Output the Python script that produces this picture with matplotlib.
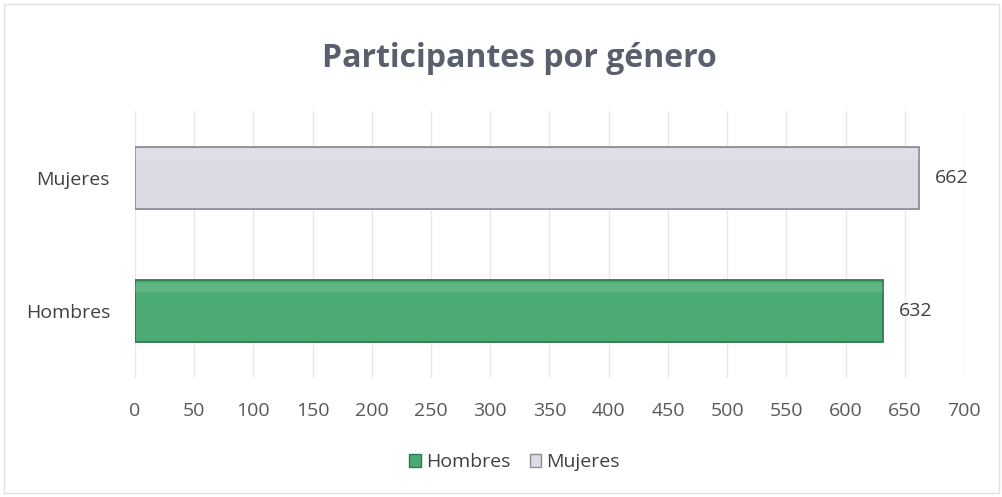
import matplotlib
matplotlib.use("Agg")
import matplotlib.pyplot as plt
from matplotlib.patches import Rectangle

categories = ["Hombres", "Mujeres"]
values = [632, 662]
bar_colors = ["#4cab75", "#dcdae3"]
edge_colors = ["#2e7a50", "#8e8d96"]
x_ticks = list(range(0, 701, 50))

TEXT = "#404040"
FONT = "Open Sans"

fig = plt.figure(figsize=(10.03, 4.97), dpi=100, facecolor="white")
fig.patches.append(Rectangle((0.004, 0.008), 0.992, 0.984, transform=fig.transFigure,
                             fill=False, edgecolor="#e0e0e0", linewidth=1.0))
ax = fig.add_axes([0.1346, 0.2394, 0.8265, 0.537])

ax.barh(range(len(categories)), values, height=0.465, color=bar_colors,
        edgecolor=edge_colors, linewidth=1.3, zorder=3)
# soft highlight along the top of each bar (bevel look)
ax.barh([i + 0.18 for i in range(len(categories))], values, height=0.07,
        color="white", alpha=0.12, linewidth=0, zorder=4)
for i, v in enumerate(values):
    ax.text(v + 13, i, str(v), va="center", ha="left", fontsize=14, color=TEXT,
            family=FONT)

ax.set_xlim(0, 700)
ax.set_ylim(-0.5, 1.5)
ax.set_xticks(x_ticks)
ax.set_xticklabels([str(t) for t in x_ticks], fontsize=14, color="#595959", family=FONT)
ax.set_yticks(range(len(categories)))
ax.set_yticklabels(categories, fontsize=14, color=TEXT, family=FONT)
ax.tick_params(axis="y", length=0, pad=18)
ax.tick_params(axis="x", length=0, pad=17)
ax.grid(axis="x", color="#e8e8e8", linewidth=1.0, zorder=0)
for s in ax.spines.values():
    s.set_visible(False)

fig.text(0.518, 0.882, "Participantes por género", ha="center", va="center",
         fontsize=23, weight="bold", color="#5a5f6e", family=FONT)

handles = [Rectangle((0, 0), 1, 1, facecolor=bar_colors[0], edgecolor=edge_colors[0]),
           Rectangle((0, 0), 1, 1, facecolor=bar_colors[1], edgecolor=edge_colors[1])]
fig.legend(handles, categories, loc="center", bbox_to_anchor=(0.513, 0.07), ncol=2,
           frameon=False, handlelength=0.6, handleheight=0.6, handletextpad=0.25,
           columnspacing=1.0, prop={"family": FONT, "size": 14}, labelcolor=TEXT)

fig.savefig("out.png", dpi=100)
